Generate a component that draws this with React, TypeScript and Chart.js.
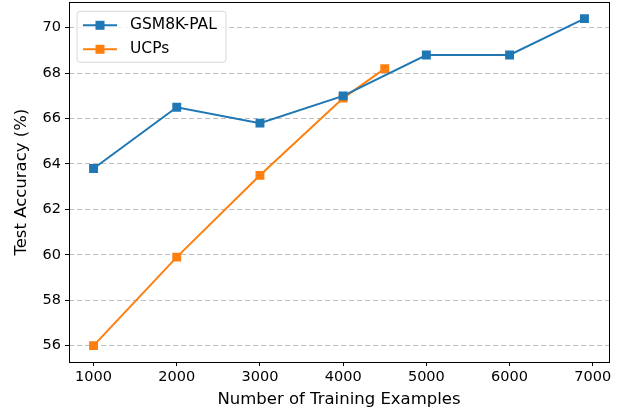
import React, { useEffect, useRef } from "react";
import { Chart, registerables } from "chart.js";
Chart.register(...registerables);

const seriesNames = ["GSM8K-PAL", "UCPs"];
const palX = [1000, 2000, 3000, 4000, 5000, 6000, 6900];
const palY = [63.8, 66.5, 65.8, 67.0, 68.8, 68.8, 70.4];
const ucpX = [1000, 2000, 3000, 4000, 4500];
const ucpY = [56.0, 59.9, 63.5, 66.9, 68.2];
const xTicks = [1000, 2000, 3000, 4000, 5000, 6000, 7000];
const yTicks = [56, 58, 60, 62, 64, 66, 68, 70];
const colors = ["#1f77b4", "#ff7f0e"];

const FONT = "'DejaVu Sans', sans-serif";
const FS = 14.5;
const TFS = 16.5;
const LFS = 15.5;

const framePlugin = {
  id: "frame",
  afterDraw(chart: any) {
    const { ctx, chartArea: a } = chart;
    ctx.save();
    ctx.strokeStyle = "#000";
    ctx.lineWidth = 1;
    ctx.strokeRect(Math.round(a.left) + 0.5, Math.round(a.top) + 0.5, Math.round(a.right - a.left), Math.round(a.bottom - a.top));
    // legend
    const bx = a.left + 8, by = a.top + 9, bw = 149, bh = 51;
    ctx.beginPath();
    const r = 3;
    ctx.moveTo(bx + r, by);
    ctx.arcTo(bx + bw, by, bx + bw, by + bh, r);
    ctx.arcTo(bx + bw, by + bh, bx, by + bh, r);
    ctx.arcTo(bx, by + bh, bx, by, r);
    ctx.arcTo(bx, by, bx + bw, by, r);
    ctx.closePath();
    ctx.fillStyle = "rgba(255,255,255,0.85)";
    ctx.fill();
    ctx.strokeStyle = "#d6d6d6";
    ctx.stroke();
    seriesNames.forEach((name, i) => {
      const y = by + 14 + i * 24;
      ctx.strokeStyle = colors[i];
      ctx.lineWidth = 2;
      ctx.beginPath();
      ctx.moveTo(bx + 6, y);
      ctx.lineTo(bx + 40, y);
      ctx.stroke();
      ctx.fillStyle = colors[i];
      ctx.fillRect(bx + 23 - 4.5, y - 4.5, 9, 9);
      ctx.fillStyle = "#000";
      ctx.font = `${LFS}px ${FONT}`;
      ctx.textBaseline = "middle";
      ctx.textAlign = "left";
      ctx.fillText(name, bx + 53, y);
    });
    ctx.restore();
  },
};

export default function App() {
  const ref = useRef<HTMLCanvasElement>(null);
  useEffect(() => {
    const chart = new Chart(ref.current!, {
      type: "line",
      data: {
        datasets: [
          {
            label: seriesNames[0],
            data: palX.map((x, i) => ({ x, y: palY[i] })),
            borderColor: colors[0],
            backgroundColor: colors[0],
            borderWidth: 2,
            pointStyle: "rect",
            pointRadius: 6.3,
            pointBorderWidth: 0,
          },
          {
            label: seriesNames[1],
            data: ucpX.map((x, i) => ({ x, y: ucpY[i] })),
            borderColor: colors[1],
            backgroundColor: colors[1],
            borderWidth: 2,
            pointStyle: "rect",
            pointRadius: 6.3,
            pointBorderWidth: 0,
          },
        ],
      },
      options: {
        animation: false,
        responsive: true,
        maintainAspectRatio: false,
        layout: { padding: { left: 0, top: 0, right: 12, bottom: 0 } },
        plugins: { legend: { display: false }, tooltip: { enabled: false } },
        scales: {
          x: {
            type: "linear",
            min: 705,
            max: 7195,
            afterBuildTicks: (s: any) => {
              s.ticks = xTicks.map((v) => ({ value: v }));
            },
            afterFit: (s: any) => {
              s.height = 51;
              s.paddingLeft = 0;
              s.paddingRight = 0;
            },
            border: { display: false },
            grid: { drawOnChartArea: false, drawTicks: true, tickLength: 4, tickColor: "#000" },
            ticks: {
              color: "#000",
              font: { family: FONT, size: FS },
              padding: 3,
              maxRotation: 0,
              autoSkip: false,
              callback: (v: any) => String(v),
            },
            title: { display: true, text: "Number of Training Examples", color: "#000", font: { family: FONT, size: TFS }, padding: { top: 0, bottom: 3 } },
          },
          y: {
            min: 55.28,
            max: 71.12,
            afterBuildTicks: (s: any) => {
              s.ticks = yTicks.map((v) => ({ value: v }));
            },
            afterFit: (s: any) => {
              s.width = 69;
              s.paddingTop = 0;
              s.paddingBottom = 0;
            },
            border: { display: false, dash: [5, 3] },
            grid: {
              color: "rgba(170,170,170,0.75)",
              tickBorderDash: [],
              tickColor: "#000",
              tickLength: 4,
              lineWidth: 1,
            },
            ticks: { color: "#000", font: { family: FONT, size: FS }, padding: 4, autoSkip: false, callback: (v: any) => String(v) },
            title: { display: true, text: "Test Accuracy (%)", color: "#000", font: { family: FONT, size: TFS }, padding: { top: 12, bottom: 3 } },
          },
        },
      },
      plugins: [framePlugin],
    });
    return () => chart.destroy();
  }, []);
  return (
    <div style={{ position: "absolute", left: 0, top: -4, width: 621, height: 417 }}>
      <canvas ref={ref} />
    </div>
  );
}
